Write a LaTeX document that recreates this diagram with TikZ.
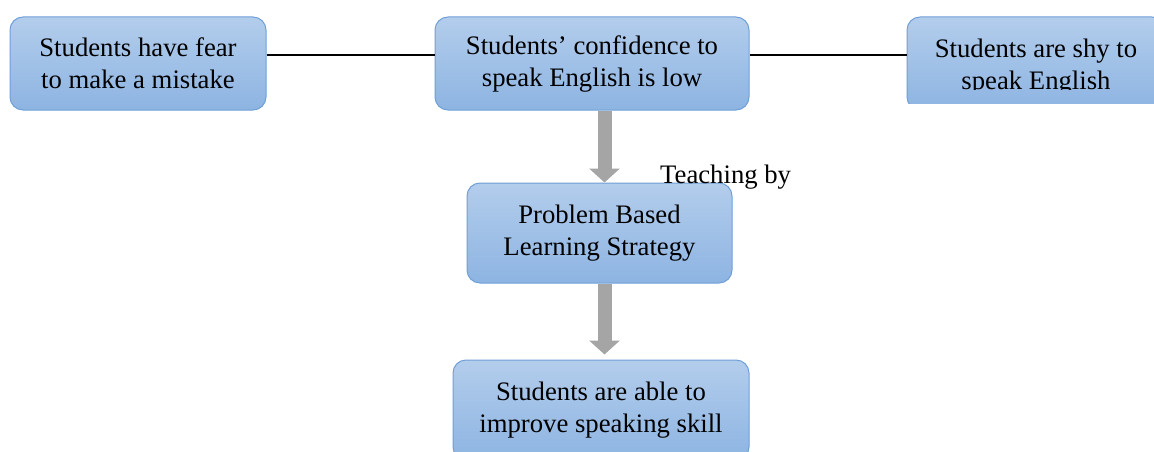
\documentclass[tikz,border=0pt]{standalone}
\usepackage{fontspec}
\setmainfont{Liberation Serif}
\usetikzlibrary{positioning,arrows.meta,calc}

\definecolor{boxtop}{HTML}{B3CDEC}
\definecolor{boxbot}{HTML}{8DB4E2}
\definecolor{boxline}{HTML}{6FA0D8}
\definecolor{arrgray}{HTML}{A5A5A5}

\begin{document}
\begin{tikzpicture}[x=1pt, y=-1pt,
  box/.style={rectangle, rounded corners=13pt, draw=boxline, line width=1pt,
    top color=boxtop, bottom color=boxbot, align=center, inner sep=0pt,
    minimum height=93pt, font=\fontsize{26.7}{32}\selectfont},
  flow/.style={line width=14pt, arrgray, -{Triangle[width=30pt, length=14pt]}},
  link/.style={line width=1.1pt, black},
  lbl/.style={font=\fontsize{26.7}{32}\selectfont, inner sep=0pt, align=center}]

\useasboundingbox (0,0) rectangle (1154,452);
\clip (0,0) rectangle (1154,452);

% Causes
\node[box, minimum width=256pt] (fear) at (138,63.5) {Students have fear\\to make a mistake};
\node[box, minimum width=314pt] (conf) at (592,63.5) {Students’ confidence to\\speak English is low};
\begin{scope}
  \clip (900,0) rectangle (1154,103);
  \node[box, minimum width=258pt] (shy) at (1036,63.5) {};
\end{scope}
\begin{scope}
  \clip (900,0) rectangle (1154,89);
  \node[lbl] (shytext) at ([yshift=-4pt]shy.center) {Students are shy to\\speak English};
\end{scope}

% Treatment and result
\node[box, minimum width=265pt, minimum height=100pt] (pbl) at (599.5,233) {Problem Based\\Learning Strategy};
\node[box, minimum width=296pt, minimum height=100pt] (skill) at (601,410) {Students are able to\\improve speaking skill};
\node[lbl, anchor=base west] (teach) at (660,183) {Teaching by};

% Links
\draw[link] ([yshift=8.5pt]fear.east) -- ([yshift=8.5pt]conf.west);
\draw[link] ([yshift=8.5pt]conf.east) -- ([yshift=8.5pt]conf.east -| shy.west);

% Flow arrows
\draw[flow] ([xshift=12.5pt]conf.south) -- ([xshift=12.5pt]conf.south |- pbl.north);
\draw[flow, shorten >=5pt] ([xshift=5pt]pbl.south) -- ([xshift=5pt]pbl.south |- skill.north);

\end{tikzpicture}
\end{document}
